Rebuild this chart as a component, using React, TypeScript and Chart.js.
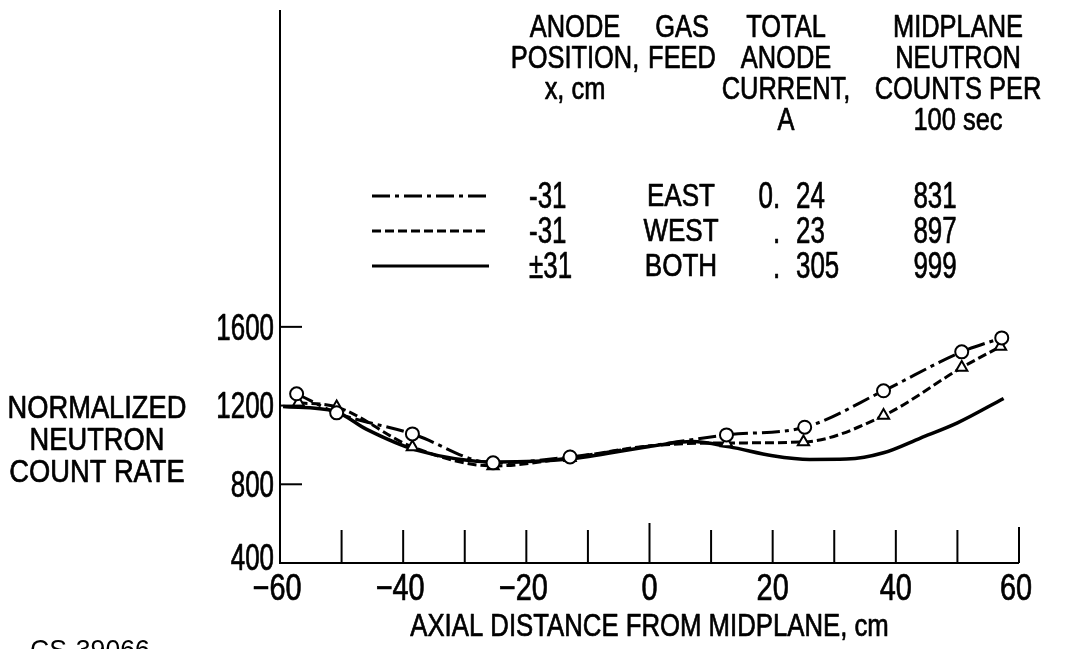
import React, { useEffect, useRef } from 'react';
import { Chart, registerables } from 'chart.js';

Chart.register(...registerables);

const FONT = "'Liberation Sans', Arial, sans-serif";

// ---- data ----
const eastX = [-57.3, -50.8, -38.5, -25.4, -12.9, 0, 12.5, 25.2, 38, 50.7, 57.2];
const eastY = [1260, 1163, 1056, 909, 939, 995, 1051, 1090, 1275, 1473, 1544];
const eastMarked = [true, true, true, true, true, false, true, true, true, true, true];

const westX = [-57.0, -50.8, -38.5, -25.4, -12.9, 0, 12.5, 25.0, 38, 50.7, 57.0];
const westY = [1214, 1193, 990, 893, 935, 995, 1010, 1015, 1149, 1393, 1500];
const westMarked = [true, true, true, true, true, false, true, true, true, true, true];

const bothX = [-59.5, -51, -46, -38, -25, -13, 0, 7, 13, 20, 26, 32, 38, 44, 50, 57.5];
const bothY = [1195, 1170, 1080, 975, 913, 928, 992, 1017, 990, 945, 926, 928, 960, 1035, 1112, 1236];

const yTickValues = [400, 800, 1200, 1600];
const xLabelValues = [-60, -40, -20, 0, 20, 40, 60];
const xMarkValues = [-50, -40, -30, -20, -10, 0, 10, 20, 30, 40, 50, 60];

const yTitleLines = ['NORMALIZED', 'NEUTRON', 'COUNT RATE'];
const xTitle = 'AXIAL DISTANCE FROM MIDPLANE, cm';

const headPosition = ['ANODE', 'POSITION,', 'x, cm'];
const headGas = ['GAS', 'FEED'];
const headCurrent = ['TOTAL', 'ANODE', 'CURRENT,', 'A'];
const headCounts = ['MIDPLANE', 'NEUTRON', 'COUNTS PER', '100 sec'];

const rowPosition = ['-31', '-31', '±31'];
const rowGas = ['EAST', 'WEST', 'BOTH'];
const rowCurrentInt = ['0', '', ''];
const rowCurrentDec = ['24', '23', '305'];
const rowCounts = ['831', '897', '999'];
const rowDash: number[][] = [[18, 5, 4, 5], [9, 4], []];

const figureId = 'CS-39066';

const pts = (xs: number[], ys: number[]) => xs.map((x, i) => ({ x, y: ys[i] }));

// condensed text: size = font px, sx = horizontal squeeze, yc = cap centre
function txt(
  ctx: CanvasRenderingContext2D,
  t: string,
  x: number,
  yc: number,
  size: number,
  sx: number,
  align: CanvasTextAlign,
  heavy = 0.7
) {
  ctx.save();
  ctx.font = `${size}px ${FONT}`;
  ctx.textAlign = align;
  ctx.textBaseline = 'alphabetic';
  ctx.translate(x, yc + size * 0.358);
  ctx.scale(sx, 1);
  ctx.fillText(t, 0, 0);
  if (heavy > 0) {
    ctx.lineWidth = heavy;
    ctx.lineJoin = 'round';
    ctx.strokeText(t, 0, 0);
  }
  ctx.restore();
}

export default function App() {
  const ref = useRef<HTMLCanvasElement>(null);

  useEffect(() => {
    const canvas = ref.current!;
    const decor = {
      id: 'decor',
      afterDraw(chart: any) {
        const { ctx, chartArea: ca, scales } = chart;
        const xs = scales.x;
        const ys = scales.y;
        ctx.save();
        ctx.strokeStyle = '#000';
        ctx.fillStyle = '#000';
        ctx.lineWidth = 2;
        ctx.lineCap = 'butt';
        // axes
        ctx.beginPath();
        ctx.moveTo(ca.left, ca.top - 2);
        ctx.lineTo(ca.left, ca.bottom);
        ctx.lineTo(ca.right, ca.bottom);
        ctx.stroke();
        // inward y tick marks
        yTickValues.slice(1).forEach((v) => {
          const py = ys.getPixelForValue(v);
          ctx.beginPath();
          ctx.moveTo(ca.left, py);
          ctx.lineTo(ca.left + 22, py);
          ctx.stroke();
        });
        // upward x tick marks
        xMarkValues.forEach((v) => {
          const px = xs.getPixelForValue(v);
          const len = v === 0 ? 40 : v === 60 ? 36 : 33;
          ctx.beginPath();
          ctx.moveTo(px, ca.bottom);
          ctx.lineTo(px, ca.bottom - len);
          ctx.stroke();
        });
        // y tick labels
        yTickValues.forEach((v) => {
          const py = ys.getPixelForValue(v);
          txt(ctx, String(v), ca.left - 6, v === 400 ? py - 6 : py, 36, 0.72, 'right');
        });
        // x tick labels
        xLabelValues.forEach((v) => {
          const px = xs.getPixelForValue(v);
          const s = v < 0 ? '\u2212' + String(-v) : String(v);
          txt(ctx, s, px - (v < 0 ? 3 : v === 60 ? 3 : 0), ca.bottom + 24, 37, 0.78, 'center');
        });
        // x title
        txt(ctx, xTitle, (ca.left + ca.right) / 2, ca.bottom + 62, 31, 0.83, 'center');
        // y title
        yTitleLines.forEach((t, i) => txt(ctx, t, 97, 407 + i * 32, 31, 0.88, 'center'));
        // legend table headers
        const lh = 31;
        const drawCol = (lines: string[], cx: number) =>
          lines.forEach((t, i) => txt(ctx, t, cx, 26 + i * lh, 31, 0.82, 'center'));
        drawCol(headPosition, 575);
        drawCol(headGas, 682);
        drawCol(headCurrent, 786);
        drawCol(headCounts, 958);
        // rows
        const rowY = [195, 230, 265];
        rowY.forEach((ry, i) => {
          ctx.save();
          ctx.lineWidth = 3;
          ctx.setLineDash(rowDash[i]);
          ctx.beginPath();
          ctx.moveTo(372, ry + 1);
          ctx.lineTo(489, ry + 1);
          ctx.stroke();
          ctx.restore();
          txt(ctx, rowPosition[i], 529, ry, 36, 0.72, 'left');
          txt(ctx, rowGas[i], 681, ry, 31, 0.84, 'center');
          if (rowCurrentInt[i]) txt(ctx, rowCurrentInt[i], 773, ry, 36, 0.72, 'right');
          txt(ctx, '.', 773, ry, 36, 0.72, 'left');
          txt(ctx, rowCurrentDec[i], 796, ry, 36, 0.72, 'left');
          txt(ctx, rowCounts[i], 935, ry, 36, 0.72, 'center');
        });
        // figure id (cut at the bottom edge)
        txt(ctx, figureId, 30, 649, 28, 0.95, 'left', 0);
        ctx.restore();
      },
    };

    const chart = new Chart(canvas, {
      type: 'line',
      data: {
        datasets: [
          {
            label: 'EAST',
            data: pts(eastX, eastY),
            borderColor: '#000',
            borderWidth: 3,
            borderDash: rowDash[0],
            cubicInterpolationMode: 'monotone',
            pointStyle: 'circle',
            pointRadius: eastMarked.map((m) => (m ? 6.5 : 0)),
            pointBackgroundColor: '#fff',
            pointBorderColor: '#000',
            pointBorderWidth: 2,
            fill: false,
          },
          {
            label: 'WEST',
            data: pts(westX, westY),
            borderColor: '#000',
            borderWidth: 3,
            borderDash: rowDash[1],
            cubicInterpolationMode: 'monotone',
            pointStyle: 'triangle',
            pointRadius: westMarked.map((m) => (m ? 6.5 : 0)),
            pointBackgroundColor: '#fff',
            pointBorderColor: '#000',
            pointBorderWidth: 2,
            fill: false,
          },
          {
            label: 'BOTH',
            data: pts(bothX, bothY),
            borderColor: '#000',
            borderWidth: 3.5,
            cubicInterpolationMode: 'monotone',
            pointRadius: 0,
            fill: false,
          },
        ],
      },
      options: {
        animation: false,
        responsive: false,
        devicePixelRatio: 1,
        layout: { padding: { left: 0, right: 66, top: 12, bottom: 0 } },
        plugins: { legend: { display: false }, tooltip: { enabled: false } },
        datasets: { line: { clip: false } as any },
        scales: {
          x: {
            type: 'linear',
            min: -60,
            max: 60,
            grid: { display: false, drawTicks: false },
            border: { display: false },
            ticks: { display: false },
            afterFit: (s: any) => {
              s.height = 86;
            },
          },
          y: {
            type: 'linear',
            min: 400,
            max: 3200,
            grid: { display: false, drawTicks: false },
            border: { display: false },
            ticks: { display: false },
            afterFit: (s: any) => {
              s.width = 280;
            },
          },
        },
      },
      plugins: [decor],
    } as any);
    return () => chart.destroy();
  }, []);

  return (
    <div style={{ position: 'absolute', left: 0, top: 0, width: 1085, height: 649, background: '#fff', overflow: 'hidden' }}>
      <canvas ref={ref} width={1085} height={649} style={{ display: 'block' }} />
    </div>
  );
}
